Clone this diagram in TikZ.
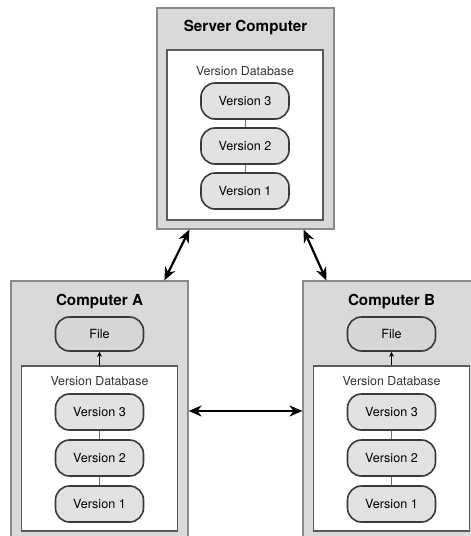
\documentclass[tikz,border=0pt]{standalone}
\usepackage{fontspec}
\setmainfont{TeX Gyre Heros}
\usetikzlibrary{arrows.meta,calc}
\definecolor{MachineFill}{HTML}{D9D9D9}
\definecolor{MachineLine}{HTML}{8A8A8A}
\definecolor{DbLine}{HTML}{5A5A5A}
\definecolor{DbText}{HTML}{333333}
\definecolor{VersionFill}{HTML}{E2E2E2}
\definecolor{FileFill}{HTML}{D6D6D6}
\definecolor{VersionLine}{HTML}{3A3A3A}
\definecolor{LinkGray}{HTML}{707070}
\tikzset{
  machine/.style={draw=MachineLine,fill=MachineFill,line width=1.2pt,minimum width=177pt},
  database/.style={draw=DbLine,fill=white,line width=1.2pt,minimum width=156pt},
  version/.style={draw=VersionLine,fill=VersionFill,line width=1.6pt,rounded corners=14pt,
    minimum width=88pt,minimum height=36pt,font=\fontsize{12.6}{14}\selectfont},
  file/.style={version,fill=FileFill,minimum height=34pt},
  titulo/.style={font=\fontsize{15.2}{17}\selectfont\bfseries,inner sep=0pt},
  dbtitle/.style={font=\fontsize{12.4}{14}\selectfont,text=DbText,inner sep=0pt},
  link/.style={draw=LinkGray,line width=1pt},
  sync/.style={line width=2.2pt,{Stealth[length=13pt,width=11pt]}-{Stealth[length=13pt,width=11pt]}},
  fetch/.style={line width=0.8pt,-{Stealth[length=5pt,width=5pt]}}
}
\begin{document}
\begin{tikzpicture}[x=1pt,y=-1pt]
	\useasboundingbox (0,0) rectangle (471,536);
	\clip (0,0) rectangle (471,536);
	% servidor
	\node[machine,minimum height=221pt] (server) at (245.5,118.5) {};
	\node[database,minimum height=170pt] (dbS) at (245,135) {};
	\node[titulo] (tS) at (245.5,28) {Server Computer};
	\node[dbtitle] (lS) at (245,71) {Version Database};
	\foreach \n/\Yc in {3/101,2/146,1/191}
	{
		\node[version] (Sv\n) at (245,\Yc) {Version \n};
	}
	\draw[link] (Sv3) -- (Sv2);
	\draw[link] (Sv2) -- (Sv1);
	% computadoras locales
	\foreach \nombre/\Xc in {A/99.5,B/391.5}
	{
		\node[machine,minimum height=260pt] (pc\nombre) at (\Xc,411) {};
		\node[database,minimum height=165pt] (db\nombre) at (\Xc,448.5) {};
		\node[titulo] (t\nombre) at (\Xc,302) {Computer \nombre};
		\node[file] (file\nombre) at (\Xc,334) {File};
		\node[dbtitle] (l\nombre) at (\Xc,381) {Version Database};
		\foreach \n/\Yc in {3/412,2/458,1/504}
		{
			\node[version] (\nombre v\n) at (\Xc,\Yc) {Version \n};
		}
		\draw[link] (\nombre v3) -- (\nombre v2);
		\draw[link] (\nombre v2) -- (\nombre v1);
		\draw[fetch] (db\nombre.north) -- (file\nombre.south);
	}
	% flechas
	\coordinate (sA) at ($(server.south west)+(33,0)$);
	\coordinate (sB) at ($(server.south east)+(-31,0)$);
	\coordinate (nA) at ($(pcA.north west)+(154,0)$);
	\coordinate (nB) at ($(pcB.north west)+(24,0)$);
	\draw[sync] (sA) -- (nA);
	\draw[sync] (sB) -- (nB);
	\draw[sync] (pcA.east) -- (pcB.west);
\end{tikzpicture}
\end{document}
